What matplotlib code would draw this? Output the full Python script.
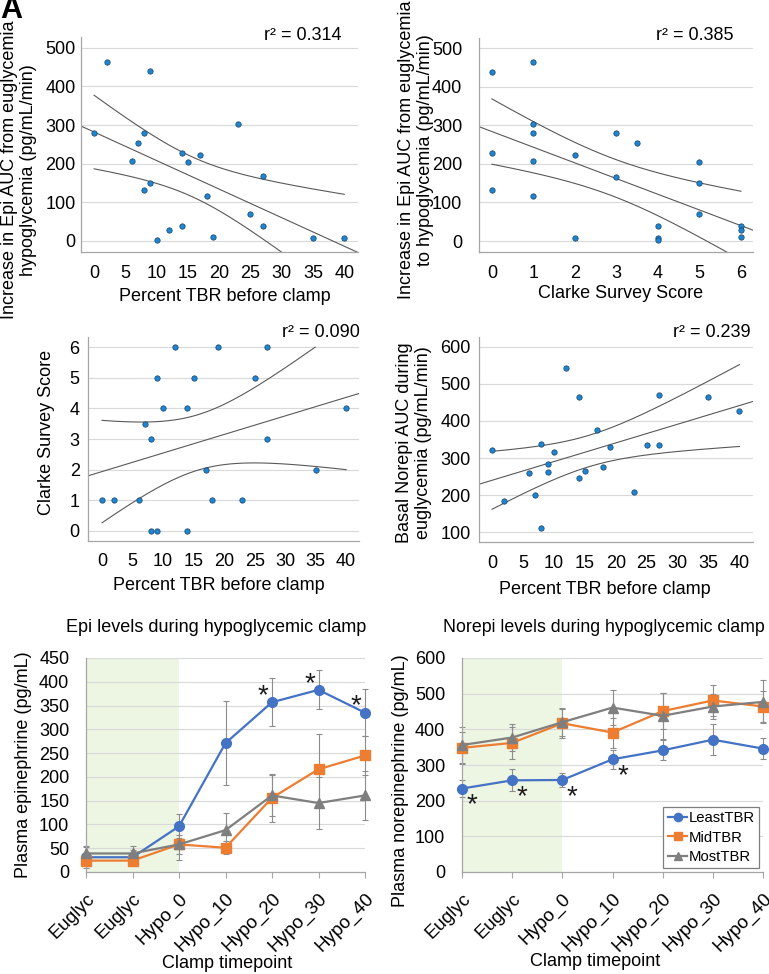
import numpy as np
import matplotlib
matplotlib.use('Agg')
import matplotlib.pyplot as plt

plt.rcParams['font.family'] = ['Liberation Sans', 'DejaVu Sans']

# ---------------- data ----------------
tbr_1 = [2, 9, 0, 8, 7, 6, 14, 15, 17, 23, 27, 9, 8, 18, 25, 27, 14, 12, 10, 19, 35, 40]
epi_auc_1 = [464, 439, 279, 279, 254, 208, 228, 204, 223, 304, 167, 150, 133, 116, 71, 40, 38, 28, 3, 10, 9, 8]

clarke_2 = [0, 0, 0, 1, 1, 1, 1, 1, 2, 2, 3, 3, 3.5, 4, 4, 4, 5, 5, 5, 6, 6, 6]
epi_auc_2 = [439, 228, 133, 464, 304, 279, 208, 116, 224, 9, 279, 167, 255, 39, 9, 3, 204, 150, 71, 40, 28, 10]

tbr_3 = [12, 19, 27, 9, 15, 25, 10, 14, 40, 7, 8, 27, 17, 35, 0, 2, 6, 18, 23, 8, 9, 14]
clarke_3 = [6, 6, 6, 5, 5, 5, 4, 4, 4, 3.5, 3, 3, 2, 2, 1, 1, 1, 1, 1, 0, 0, 0]

tbr_4 = [0, 2, 6, 7, 8, 8, 9, 9, 10, 12, 14, 14, 15, 17, 18, 19, 23, 25, 27, 27, 35, 40]
norepi_auc_4 = [321, 184, 259, 200, 338, 110, 283, 263, 316, 544, 464, 246, 265, 376, 277, 331, 207, 334, 470, 334, 466, 428]

r2_labels = ["r² = 0.314", "r² = 0.385", "r² = 0.090", "r² = 0.239"]

timepoints = ["Euglyc", "Euglyc", "Hypo_0", "Hypo_10", "Hypo_20", "Hypo_30", "Hypo_40"]
groups = ["LeastTBR", "MidTBR", "MostTBR"]

epi_least = [31, 31, 96, 271, 357, 383, 335]
epi_least_err = [22, 15, 25, 88, 51, 41, 50]
epi_mid = [24, 24, 58, 51, 156, 216, 245]
epi_mid_err = [10, 10, 20, 14, 50, 75, 40]
epi_most = [39, 39, 58, 88, 161, 145, 161]
epi_most_err = [15, 15, 33, 36, 43, 55, 52]
epi_sig = [4, 5, 6]

ne_least = [234, 257, 258, 316, 341, 371, 346]
ne_least_err = [25, 31, 20, 26, 28, 43, 30]
ne_mid = [348, 362, 417, 391, 451, 481, 464]
ne_mid_err = [45, 45, 40, 42, 50, 44, 43]
ne_most = [356, 377, 420, 461, 438, 464, 477]
ne_most_err = [50, 37, 40, 50, 65, 35, 60]
ne_sig = [0, 1, 2, 3]

# ---------------- helpers ----------------
W, H = 769, 974
fig = plt.figure(figsize=(W / 100, H / 100), dpi=100)

def rect(l, t, r, b):
    return [l / W, 1 - b / H, (r - l) / W, (b - t) / H]

def ftext(x, y, s, **kw):
    fig.text(x / W, 1 - y / H, s, **kw)

T95 = {20: 2.086}

def fit_ci(x, y, xs):
    x = np.asarray(x, float)
    y = np.asarray(y, float)
    n = len(x)
    b, a = np.polyfit(x, y, 1)
    resid = y - (a + b * x)
    s = np.sqrt(np.sum(resid ** 2) / (n - 2))
    sxx = np.sum((x - x.mean()) ** 2)
    se = s * np.sqrt(1.0 / n + (xs - x.mean()) ** 2 / sxx)
    yhat = a + b * xs
    t = T95[n - 2]
    return yhat, yhat - t * se, yhat + t * se

GRID = '#D9D9D9'
SPINE = '#A6A6A6'
LINE = '#595959'

def style_axes(ax, ypad, xpad, tick_len=0, xsize=13):
    for s in ['top', 'right']:
        ax.spines[s].set_visible(False)
    for s in ['left', 'bottom']:
        ax.spines[s].set_color(SPINE)
        ax.spines[s].set_linewidth(0.9)
    ax.grid(axis='y', color=GRID, lw=0.8)
    ax.set_axisbelow(True)
    ax.tick_params(axis='y', length=0, labelsize=13, pad=ypad)
    ax.tick_params(axis='x', length=tick_len, labelsize=xsize, pad=xpad, color=SPINE)

def scatter_panel(r, x, y, xlim, ylim, xticks, yticks, ypad, r2, r2pos):
    ax = fig.add_axes(r)
    ax.set_xlim(xlim)
    ax.set_ylim(ylim)
    ax.set_xticks(xticks)
    ax.set_yticks(yticks)
    style_axes(ax, ypad, 9)
    xl = np.linspace(xlim[0], xlim[1], 300)
    yhat, _, _ = fit_ci(x, y, xl)
    ax.plot(xl, yhat, color=LINE, lw=0.8, zorder=2)
    xb = np.linspace(min(x), max(x), 300)
    _, lo, hi = fit_ci(x, y, xb)
    hi = np.where(hi <= yticks[-1], hi, np.nan)
    ax.plot(xb, lo, color=LINE, lw=0.8, zorder=2)
    ax.plot(xb, hi, color=LINE, lw=0.8, zorder=2)
    ax.scatter(x, y, s=15, color='#1C86D1', edgecolor='#1B3F6B', lw=0.5, zorder=3)
    ftext(r2pos[0], r2pos[1], r2, ha='right', va='center', fontsize=13)
    return ax

# ---------------- scatter panels ----------------
scatter_panel(rect(81, 37, 358, 252), tbr_1, epi_auc_1, (-2.1, 42.2), (-28.5, 528),
              range(0, 41, 5), list(range(0, 501, 100)), 4, r2_labels[0], (342, 35))
ftext(19, 170, "Increase in Epi AUC from euglycemia\nhypoglycemia (pg/mL/min)",
      rotation=90, ha='center', va='center', fontsize=13, multialignment='center')
ftext(225, 296, "Percent TBR before clamp", ha='center', va='center', fontsize=13)

scatter_panel(rect(479, 38, 753, 252), clarke_2, epi_auc_2, (-0.31, 6.29), (-28.5, 526),
              range(0, 7), list(range(0, 501, 100)), 12, r2_labels[1], (734, 35))
ftext(416, 150, "Increase in Epi AUC from euglycemia\nto hypoglycemia (pg/mL/min)",
      rotation=90, ha='center', va='center', fontsize=13, multialignment='center')
ftext(621, 293, "Clarke Survey Score", ha='center', va='center', fontsize=13)

scatter_panel(rect(88, 337, 359, 541), tbr_3, clarke_3, (-2.3, 42.1), (-0.33, 6.33),
              range(0, 41, 5), list(range(0, 7)), 6, r2_labels[2], (360, 333))
ftext(47, 432, "Clarke Survey Score", rotation=90, ha='center', va='center', fontsize=13)
ftext(219, 585, "Percent TBR before clamp", ha='center', va='center', fontsize=13)

scatter_panel(rect(479, 337, 753, 542), tbr_4, norepi_auc_4, (-2.1, 42.2), (73, 627),
              range(0, 41, 5), list(range(100, 601, 100)), 6, r2_labels[3], (751, 333))
ftext(414, 443, "Basal Norepi AUC during\neuglycemia (pg/mL/min)",
      rotation=90, ha='center', va='center', fontsize=13, multialignment='center')
ftext(605, 589, "Percent TBR before clamp", ha='center', va='center', fontsize=13)

# ---------------- time-course panels ----------------
COLORS = ['#4472C4', '#ED7D31', '#7F7F7F']
MARKERS = ['o', 's', '^']

def time_panel(r, series, errs, ymax, ystep, ypad, sig, sig_off, legend):
    ax = fig.add_axes(r)
    xs = np.arange(len(timepoints))
    ax.set_xlim(0, len(timepoints) - 1)
    ax.set_ylim(0, ymax)
    ax.set_yticks(np.arange(0, ymax + 1, ystep))
    ax.set_xticks(xs)
    ax.set_xticklabels(timepoints, rotation=45, ha='right', va='top', rotation_mode='anchor')
    style_axes(ax, ypad, 9, tick_len=4, xsize=13.5)
    ax.axvspan(0, 2, color='#EDF5E3', zorder=0, lw=0)
    for vals, e, c, m, g in zip(series, errs, COLORS, MARKERS, groups):
        ax.errorbar(xs, vals, yerr=e, fmt='none', ecolor='#8C8C8C', elinewidth=0.8,
                    capsize=2.5, capthick=0.8, zorder=2, clip_on=False)
        ax.plot(xs, vals, color=c, lw=1.6, marker=m, ms=7 if m != 's' else 6.5,
                label=g, zorder=3, clip_on=False)
    least = series[0]
    for i in sig:
        ax.annotate('*', xy=(i, least[i]), xytext=sig_off, textcoords='offset pixels',
                    ha='center', va='center', fontsize=20, color='#1a1a1a', zorder=4)
    if legend:
        leg = ax.legend(loc='lower right', fontsize=10.7, frameon=True, fancybox=False,
                        edgecolor='#7F7F7F', framealpha=1, borderpad=0.3, handlelength=1.3,
                        handletextpad=0.1, labelspacing=0.35, borderaxespad=0.25,
                        markerscale=0.85)
        leg.get_frame().set_linewidth(0.9)
    return ax

time_panel(rect(86, 658, 365, 872), [epi_least, epi_mid, epi_most],
           [epi_least_err, epi_mid_err, epi_most_err], 450, 50, 12, epi_sig, (-9, 6), False)
ftext(216, 628, "Epi levels during hypoglycemic clamp", ha='center', va='center', fontsize=13)
ftext(24, 765, "Plasma epinephrine (pg/mL)", rotation=90, ha='center', va='center', fontsize=13)
ftext(227, 964, "Clamp timepoint", ha='center', va='center', fontsize=13)

time_panel(rect(462, 658, 763, 872), [ne_least, ne_mid, ne_most],
           [ne_least_err, ne_mid_err, ne_most_err], 600, 100, 12, ne_sig, (10, -17), True)
ftext(604, 628, "Norepi levels during hypoglycemic clamp", ha='center', va='center', fontsize=12.8)
ftext(400, 781, "Plasma norepinephrine (pg/mL)", rotation=90, ha='center', va='center', fontsize=13)
ftext(595, 962, "Clamp timepoint", ha='center', va='center', fontsize=13)

# panel letter (partially cut at the corner)
ftext(11, 10, "A", ha='center', va='center', fontsize=22, fontweight='bold', color='black')

fig.savefig('out.png', dpi=100)
